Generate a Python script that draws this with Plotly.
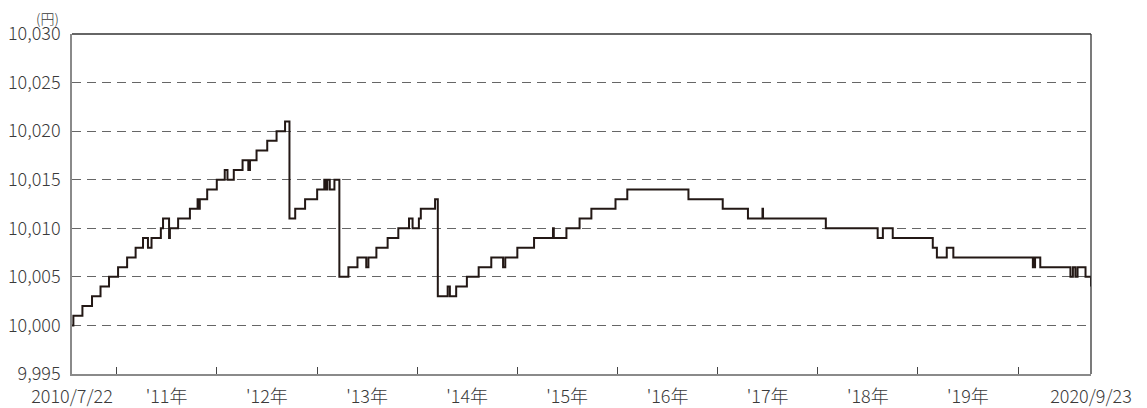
import plotly.graph_objects as go

# Step series: date of each change and the value from that date (円)
dates = [
    "2010-07-22", "2010-07-27", "2010-08-29", "2010-10-03", "2010-11-03", "2010-12-04",
    "2011-01-06", "2011-02-08", "2011-03-11", "2011-04-07", "2011-04-25", "2011-05-08",
    "2011-06-11", "2011-06-19", "2011-07-11", "2011-07-14", "2011-08-13", "2011-09-25",
    "2011-10-23", "2011-10-25", "2011-10-31", "2011-11-27", "2012-01-01", "2012-01-30",
    "2012-02-09", "2012-03-03", "2012-04-04", "2012-04-25", "2012-05-01", "2012-05-25",
    "2012-07-03", "2012-08-06", "2012-09-06", "2012-09-22", "2012-10-13", "2012-11-18",
    "2013-01-01", "2013-01-27", "2013-01-30", "2013-02-01", "2013-02-04", "2013-02-07",
    "2013-02-16", "2013-03-05", "2013-03-23", "2013-04-25", "2013-05-28", "2013-06-29",
    "2013-07-07", "2013-08-05", "2013-09-15", "2013-10-24", "2013-12-02", "2013-12-15",
    "2014-01-07", "2014-01-14", "2014-03-07", "2014-03-17", "2014-04-22", "2014-04-30",
    "2014-05-23", "2014-07-01", "2014-08-13", "2014-09-28", "2014-11-10", "2014-11-18",
    "2015-01-01", "2015-03-03", "2015-05-11", "2015-05-14", "2015-06-29", "2015-08-16",
    "2015-09-28", "2015-12-25", "2016-02-06", "2016-09-16", "2017-01-19", "2017-04-21",
    "2017-06-13", "2017-06-15", "2018-01-30", "2018-08-07", "2018-08-26", "2018-10-01",
    "2019-02-24", "2019-03-11", "2019-04-16", "2019-05-10", "2020-02-24", "2020-02-27",
    "2020-02-29", "2020-03-03", "2020-03-22", "2020-07-10", "2020-07-19", "2020-07-28",
    "2020-08-05", "2020-09-03", "2020-09-22", "2020-09-23",
]
values = [
    10000, 10001, 10002, 10003, 10004, 10005,
    10006, 10007, 10008, 10009, 10008, 10009,
    10010, 10011, 10009, 10010, 10011, 10012,
    10013, 10012, 10013, 10014, 10015, 10016,
    10015, 10016, 10017, 10016, 10017, 10018,
    10019, 10020, 10021, 10011, 10012, 10013,
    10014, 10015, 10014, 10015, 10014, 10015,
    10014, 10015, 10005, 10006, 10007, 10006,
    10007, 10008, 10009, 10010, 10011, 10010,
    10011, 10012, 10013, 10003, 10004, 10003,
    10004, 10005, 10006, 10007, 10006, 10007,
    10008, 10009, 10010, 10009, 10010, 10011,
    10012, 10013, 10014, 10013, 10012, 10011,
    10012, 10011, 10010, 10009, 10010, 10009,
    10008, 10007, 10008, 10007, 10006, 10007,
    10006, 10007, 10006, 10005, 10006, 10005,
    10006, 10005, 10005, 10004,
]

# Axis labels
label_dates = ["2010-07-22", "2011-07-02", "2012-07-02", "2013-07-02", "2014-07-02",
               "2015-07-02", "2016-07-02", "2017-07-02", "2018-07-02", "2019-07-02",
               "2020-09-23"]
label_text = ["2010/7/22", "'11年", "'12年", "'13年", "'14年", "'15年",
              "'16年", "'17年", "'18年", "'19年", "2020/9/23"]
year_ticks = ["2011-01-01", "2012-01-01", "2013-01-01", "2014-01-01", "2015-01-01",
              "2016-01-01", "2017-01-01", "2018-01-01", "2019-01-01", "2020-01-01"]
y_ticks = [9995, 10000, 10005, 10010, 10015, 10020, 10025, 10030]
y_unit = "(円)"

FONT = "Noto Sans CJK JP"
TXT = "#3a3a3a"
TF = dict(family=FONT, size=18, color=TXT, weight=300)

fig = go.Figure()
fig.add_trace(go.Scatter(
    x=dates, y=values, mode="lines", line_shape="hv",
    line=dict(color="#231815", width=2), hoverinfo="skip", showlegend=False,
))

# the page body has an 8px margin, so the figure is sized/offset to compensate
fig.update_layout(
    width=1139, height=400,
    margin=dict(l=64, r=56, t=26, b=34),
    paper_bgcolor="white", plot_bgcolor="white",
    font=TF,
    xaxis=dict(
        range=["2010-07-22", "2020-09-23"], automargin=False,
        tickmode="array", tickvals=label_dates, ticktext=label_text,
        ticks="", showgrid=False, showline=True, linecolor="#8a8a8a", linewidth=1.5,
        minor=dict(tickmode="array", tickvals=year_ticks, ticks="inside",
                   ticklen=7, tickcolor="#444", tickwidth=1.2, showgrid=False),
        tickfont=TF, ticklabelstandoff=6,
        zeroline=False,
    ),
    yaxis=dict(
        range=[9995, 10030], tickmode="array", tickvals=y_ticks, automargin=False,
        tickformat=",d", ticks="", showline=True, linecolor="#8a8a8a", linewidth=1.5,
        showgrid=True, gridcolor="#666666", gridwidth=1, griddash="9px,6px",
        tickfont=TF, ticklabelstandoff=6, zeroline=False,
    ),
    shapes=[
        dict(type="line", xref="paper", yref="paper", x0=0, x1=1, y0=1, y1=1,
             line=dict(color="#333", width=1.3)),
        dict(type="line", xref="paper", yref="paper", x0=1, x1=1, y0=0, y1=1,
             line=dict(color="#333", width=1.3)),
    ],
    annotations=[
        dict(text=y_unit, xref="paper", yref="paper", x=0, y=1, xanchor="right",
             yanchor="middle", xshift=-12, yshift=16, showarrow=False, borderpad=0,
             font=dict(family=FONT, size=14, color=TXT, weight=300)),
    ],
)

fig.write_html("out.html")
